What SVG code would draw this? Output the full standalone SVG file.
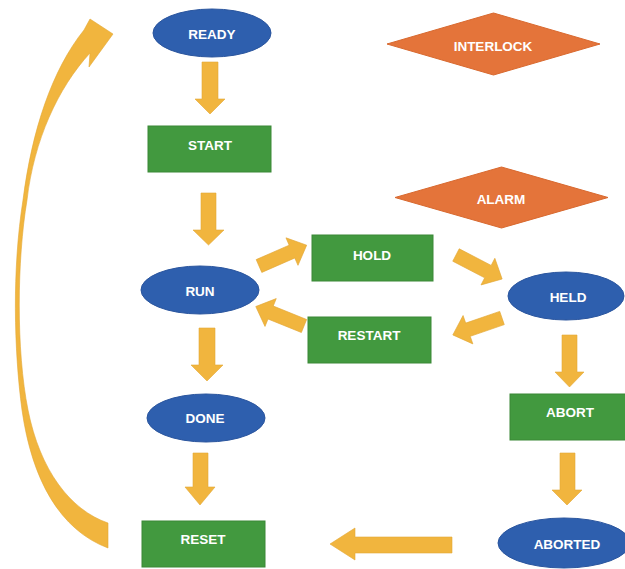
<svg xmlns="http://www.w3.org/2000/svg" width="625" height="569" viewBox="0 0 625 569">
<style>
.state{fill:#2E5FAE;stroke:#2A559E;stroke-width:1}
.step{fill:#42993F;stroke:#3A8837;stroke-width:1}
.cond{fill:#E4743A;stroke:#D8692F;stroke-width:1}
.arr{fill:#F1B53E;stroke:#E2A735;stroke-width:0.6}
.lbl{font-family:"Liberation Sans",Arial,sans-serif;font-weight:bold;font-size:13.5px;fill:#FFFFFF;text-anchor:middle;dominant-baseline:central}
</style>
<defs>
<path id="diag" d="M0,-7 L36,-7 L36,-15 L52,0 L36,15 L36,7 L0,7 Z"/>
</defs>
<rect width="625" height="569" fill="#FFFFFF"/>

<g id="connectors">
<polygon class="arr" points="202,62 218,62 218,99 225,99 210,114 195,99 202,99"/>
<polygon class="arr" points="201,193 216,193 216,230 224,230 208.5,245 193,230 201,230"/>
<polygon class="arr" points="199,328 215,328 215,365 223,365 207,381 191,365 199,365"/>
<polygon class="arr" points="193,453 208,453 208,487 215,487 200,505 185,487 193,487"/>
<polygon class="arr" points="562,335 577,335 577,372 584,372 569.5,387 555,372 562,372"/>
<polygon class="arr" points="560,453 575,453 575,490 582,490 567,505 552,490 560,490"/>
<polygon class="arr" points="452,537 452,553 355,553 355,560 330,544 355,528 355,537"/>
<use href="#diag" class="arr" transform="translate(259,266) rotate(-23.6)"/>
<use href="#diag" class="arr" transform="translate(456,255) rotate(27.5)"/>
<use href="#diag" class="arr" transform="translate(502,318) rotate(161)"/>
<use href="#diag" class="arr" transform="translate(304,326) rotate(202)"/>
<path class="arr" d="M108,523 C70,510 40,470 28,410 C16,350 17,260 27,200 C34,140 58,88 90,53 L89,67 L113,34 L90,19 L84,30 C52,70 32,130 23,200 C12,270 14,350 22,410 C32,480 60,530 108,548 Z"/>
</g>

<g id="ready"><ellipse class="state" cx="212" cy="33" rx="59" ry="24"/><text class="lbl" x="212" y="34">READY</text></g>
<g id="start"><rect class="step" x="148" y="126" width="123" height="46"/><text class="lbl" x="210" y="145">START</text></g>
<g id="run"><ellipse class="state" cx="200" cy="290" rx="59" ry="24"/><text class="lbl" x="200" y="291">RUN</text></g>
<g id="hold"><rect class="step" x="312" y="235" width="121" height="46"/><text class="lbl" x="372" y="255">HOLD</text></g>
<g id="restart"><rect class="step" x="308" y="317" width="123" height="46"/><text class="lbl" x="369" y="335">RESTART</text></g>
<g id="held"><ellipse class="state" cx="566" cy="296" rx="58" ry="24"/><text class="lbl" x="568" y="297">HELD</text></g>
<g id="done"><ellipse class="state" cx="206" cy="418" rx="59" ry="24"/><text class="lbl" x="205" y="418">DONE</text></g>
<g id="abort"><rect class="step" x="510" y="394" width="122" height="46"/><text class="lbl" x="570" y="412">ABORT</text></g>
<g id="reset"><rect class="step" x="142" y="521" width="123" height="46"/><text class="lbl" x="203" y="539">RESET</text></g>
<g id="aborted"><ellipse class="state" cx="564" cy="543" rx="66" ry="25"/><text class="lbl" x="567" y="544">ABORTED</text></g>
<g id="interlock"><polygon class="cond" points="387,44 493.5,13 600,44 493.5,75"/><text class="lbl" x="493" y="46">INTERLOCK</text></g>
<g id="alarm"><polygon class="cond" points="395,197.5 501.5,167 608,197.5 501.5,228"/><text class="lbl" x="501" y="199">ALARM</text></g>
</svg>
